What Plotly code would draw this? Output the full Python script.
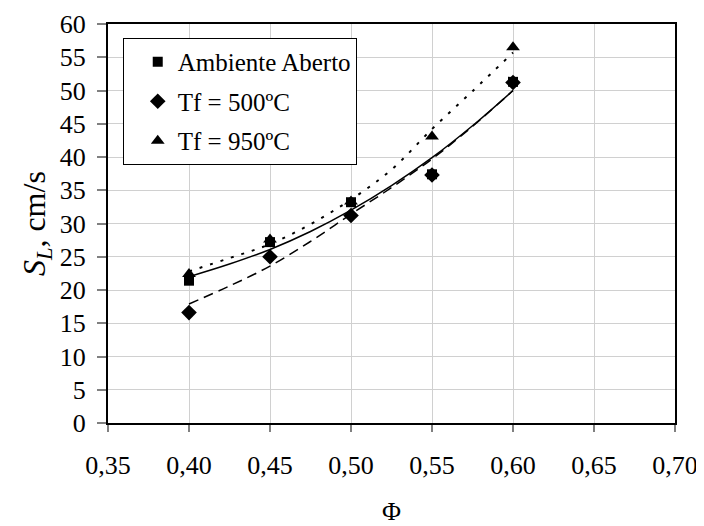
import plotly.graph_objects as go

# Data
phi = [0.40, 0.45, 0.50, 0.55, 0.60]
amb = [21.4, 27.2, 33.2, 37.4, 51.3]
tf500 = [16.6, 25.0, 31.2, 37.3, 51.2]
tf950 = [22.4, 27.6, 33.3, 43.1, 56.5]

# Trendline values
phi_fit = [0.40, 0.425, 0.45, 0.475, 0.50, 0.525, 0.55, 0.575, 0.60]
fit_amb = [22.0, 23.9, 26.1, 28.8, 32.0, 35.7, 39.9, 44.7, 50.0]
fit_500 = [17.9, 20.6, 23.6, 27.3, 31.4, 35.4, 39.7, 44.6, 50.0]
fit_950 = [22.8, 24.8, 26.9, 29.9, 33.6, 38.1, 44.2, 49.9, 55.7]

names = ["Ambiente Aberto", "Tf = 500ºC", "Tf = 950ºC"]
y_ticks = list(range(0, 61, 5))
x_ticks = [0.35, 0.40, 0.45, 0.50, 0.55, 0.60, 0.65, 0.70]
x_labels = ["0,35", "0,40", "0,45", "0,50", "0,55", "0,60", "0,65", "0,70"]

FONT = "Liberation Serif"

fig = go.Figure()

# trendlines
fig.add_trace(go.Scatter(x=phi_fit, y=fit_950, mode="lines", line=dict(color="black", width=2, dash="3px,8px", shape="spline"), showlegend=False, hoverinfo="skip"))
fig.add_trace(go.Scatter(x=phi_fit, y=fit_500, mode="lines", line=dict(color="black", width=1.5, dash="10px,6px", shape="spline"), showlegend=False, hoverinfo="skip"))
fig.add_trace(go.Scatter(x=phi_fit, y=fit_amb, mode="lines", line=dict(color="black", width=1.5, shape="spline"), showlegend=False, hoverinfo="skip"))

# markers
fig.add_trace(go.Scatter(x=phi, y=tf950, mode="markers", name=names[2], legendrank=3, legendgroup="c",
                         marker=dict(symbol="triangle-up", size=12, color="black")))
fig.add_trace(go.Scatter(x=phi, y=tf500, mode="markers", name=names[1], legendrank=2, legendgroup="b",
                         marker=dict(symbol="diamond", size=12, color="black")))
fig.add_trace(go.Scatter(x=phi, y=amb, mode="markers", name=names[0], legendrank=1, legendgroup="a",
                         marker=dict(symbol="square", size=10, color="black")))

fig.update_layout(
    template="none",
    width=696, height=518,
    margin=dict(l=100, r=29, t=16, b=103),
    paper_bgcolor="white", plot_bgcolor="white",
    font=dict(family=FONT, color="black", size=26),
    showlegend=True,
    legend=dict(
        x=0.026, y=0.965, xanchor="left", yanchor="top",
        bgcolor="white", bordercolor="black", borderwidth=1,
        font=dict(family=FONT, size=25, color="black"),
        tracegroupgap=4, traceorder="grouped", indentation=14,
    ),
    xaxis=dict(
        range=[0.35, 0.70], tickvals=x_ticks, ticktext=x_labels,
        showgrid=True, gridcolor="#d0d0d0", gridwidth=1,
        showline=True, linecolor="black", linewidth=2, mirror=True,
        ticks="outside", ticklen=7, tickcolor="#808080", tickwidth=1.5,
        ticklabelstandoff=11, zeroline=False, automargin=False,
        tickfont=dict(family=FONT, size=26, color="black"),
    ),
    yaxis=dict(
        range=[0, 60], tickvals=y_ticks,
        showgrid=True, gridcolor="#d0d0d0", gridwidth=1,
        showline=True, linecolor="black", linewidth=2, mirror=True,
        ticks="outside", ticklen=9, tickcolor="#808080", tickwidth=1.5,
        ticklabelstandoff=6, zeroline=False, automargin=False,
        tickfont=dict(family=FONT, size=26, color="black"),
    ),
    annotations=[
        dict(text="<i>S<sub>L</sub></i>, cm/s", xref="paper", yref="paper", x=-0.126, y=0.5,
             xanchor="center", yanchor="middle", textangle=-90, showarrow=False,
             font=dict(family=FONT, size=32)),
        dict(text="Φ", xref="paper", yref="paper", x=0.5, y=-0.2206,
             xanchor="center", yanchor="middle", showarrow=False,
             font=dict(family=FONT, size=26)),
    ],
)

fig.write_html("out.html")
